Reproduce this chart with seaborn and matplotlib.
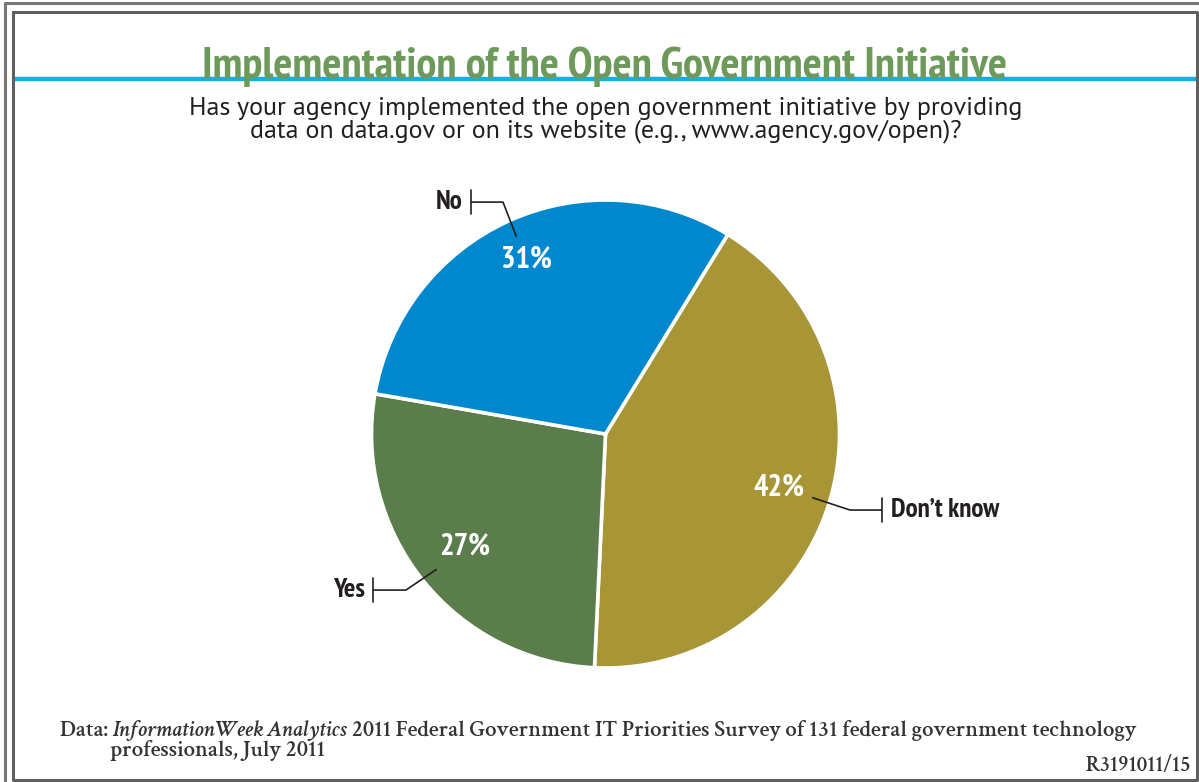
import matplotlib
matplotlib.use("Agg")
import numpy as np
import matplotlib.pyplot as plt
from matplotlib.lines import Line2D
import seaborn as sns

# Survey answers (percent of respondents)
categories = ["Don\u2019t know", "Yes", "No"]
shares = [42, 27, 31]
slice_colors = ["#a89535", "#5a7d4b", "#0088cf"]

title = "Implementation of the Open Government Initiative"
subtitle = ("Has your agency implemented the open government initiative by providing\n"
            "data on data.gov or on its website (e.g., www.agency.gov/open)?")
source_parts = [("Data: ", "normal"),
                ("InformationWeek Analytics", "italic"),
                (" 2011 Federal Government IT Priorities Survey of 131 federal government technology", "normal")]
source_line2 = "professionals, July 2011"
chart_id = "R3191011/15"

sns.set_theme(style="white")
palette = sns.color_palette(slice_colors)

W, H = 1199, 782
fig = plt.figure(figsize=(W / 100, H / 100), dpi=100)
fig.patch.set_facecolor("white")


def fx(px):
    return px / W


def fy(py):
    return 1 - py / H


# Frames
frame_col = "#5f5f5f"
fig.add_artist(Line2D([fx(5), fx(5)], [fy(3), fy(H + 5)], color="#777777", lw=2.2))
fig.add_artist(Line2D([fx(5), fx(W + 5)], [fy(3), fy(3)], color="#777777", lw=2.2))
fig.add_artist(Line2D([fx(13), fx(1196.5), fx(1196.5), fx(13), fx(13)],
                      [fy(12), fy(12), fy(780), fy(780), fy(12)], color=frame_col, lw=2.2))
# Rule under the title
fig.add_artist(Line2D([fx(14), fx(1195.5)], [fy(79), fy(79)], color="#16aee6", lw=3.2, zorder=1))

COND = ["PT Sans Narrow", "DejaVu Sans"]
SANS = ["PT Sans", "DejaVu Sans"]
fig.text(fx(605), fy(78), title, ha="center", va="baseline", color="#6d9a5b",
         fontsize=32.3, fontweight="bold", family=COND, zorder=3)
fig.text(fx(606), fy(120), subtitle, ha="center", va="center", color="#231f20",
         fontsize=18.7, family=SANS, linespacing=1.0, multialignment="center")

# Pie
R_PX = 234
cx, cy = 605.5, 434
half = 1.3 * R_PX
ax = fig.add_axes([fx(cx - half), fy(cy + half), 2 * half / W, 2 * half / H])
wedges, _ = ax.pie(shares, colors=palette, startangle=58.5, counterclock=False,
                   radius=1, wedgeprops=dict(edgecolor="white", linewidth=2.6))
ax.set_xlim(-1.3, 1.3)
ax.set_ylim(-1.3, 1.3)
ax.set_aspect("equal")
ax.axis("off")

pct_dist = {"Don\u2019t know": 0.776, "Yes": 0.77, "No": 0.82}
# elbow point, end of horizontal leader (x), label side
leaders = {"Don\u2019t know": ((1.045, -0.325), 1.182, "left"),
           "Yes": ((-0.853, -0.667), -0.994, "right"),
           "No": ((-0.438, 0.991), -0.575, "right")}

for w, cat, val in zip(wedges, categories, shares):
    mid = np.deg2rad((w.theta1 + w.theta2) / 2)
    d = pct_dist[cat]
    ax.text(d * np.cos(mid), d * np.sin(mid), f"{val}%", ha="center", va="center",
            color="white", fontsize=22, fontweight="bold", family=COND)
    (ex, ey), hx, side = leaders[cat]
    sx, sy = 0.924 * np.cos(mid), 0.924 * np.sin(mid)
    ax.plot([sx, ex, hx], [sy, ey, ey], color="#231f20", lw=1.2, clip_on=False,
            solid_capstyle="butt")
    ax.plot([hx, hx], [ey - 0.052, ey + 0.052], color="#231f20", lw=1.2, clip_on=False)
    off = 0.04 if side == "left" else -0.034
    ax.text(hx + off, ey, cat, ha=side, va="center", color="#231f20",
            fontsize=19.5, fontweight="bold", family=COND)

# Source note
SERIF = ["Crimson Text", "DejaVu Serif"]
fig.canvas.draw()
renderer = fig.canvas.get_renderer()
x = fx(60)
for txt, style in source_parts:
    t = fig.text(x, fy(736), txt, ha="left", va="baseline", fontsize=16.45,
                 fontweight="semibold", style=style, family=SERIF, color="#333333")
    bb = t.get_window_extent(renderer)
    x = bb.x1 / W
fig.text(fx(110), fy(756), source_line2, ha="left", va="baseline", fontsize=16.45,
         fontweight="semibold", family=SERIF, color="#333333")
fig.text(fx(1191), fy(771), chart_id, ha="right", va="baseline", fontsize=15.5,
         fontweight="semibold", family=SERIF, color="#333333")

fig.savefig("out.png", dpi=100, facecolor="white")
